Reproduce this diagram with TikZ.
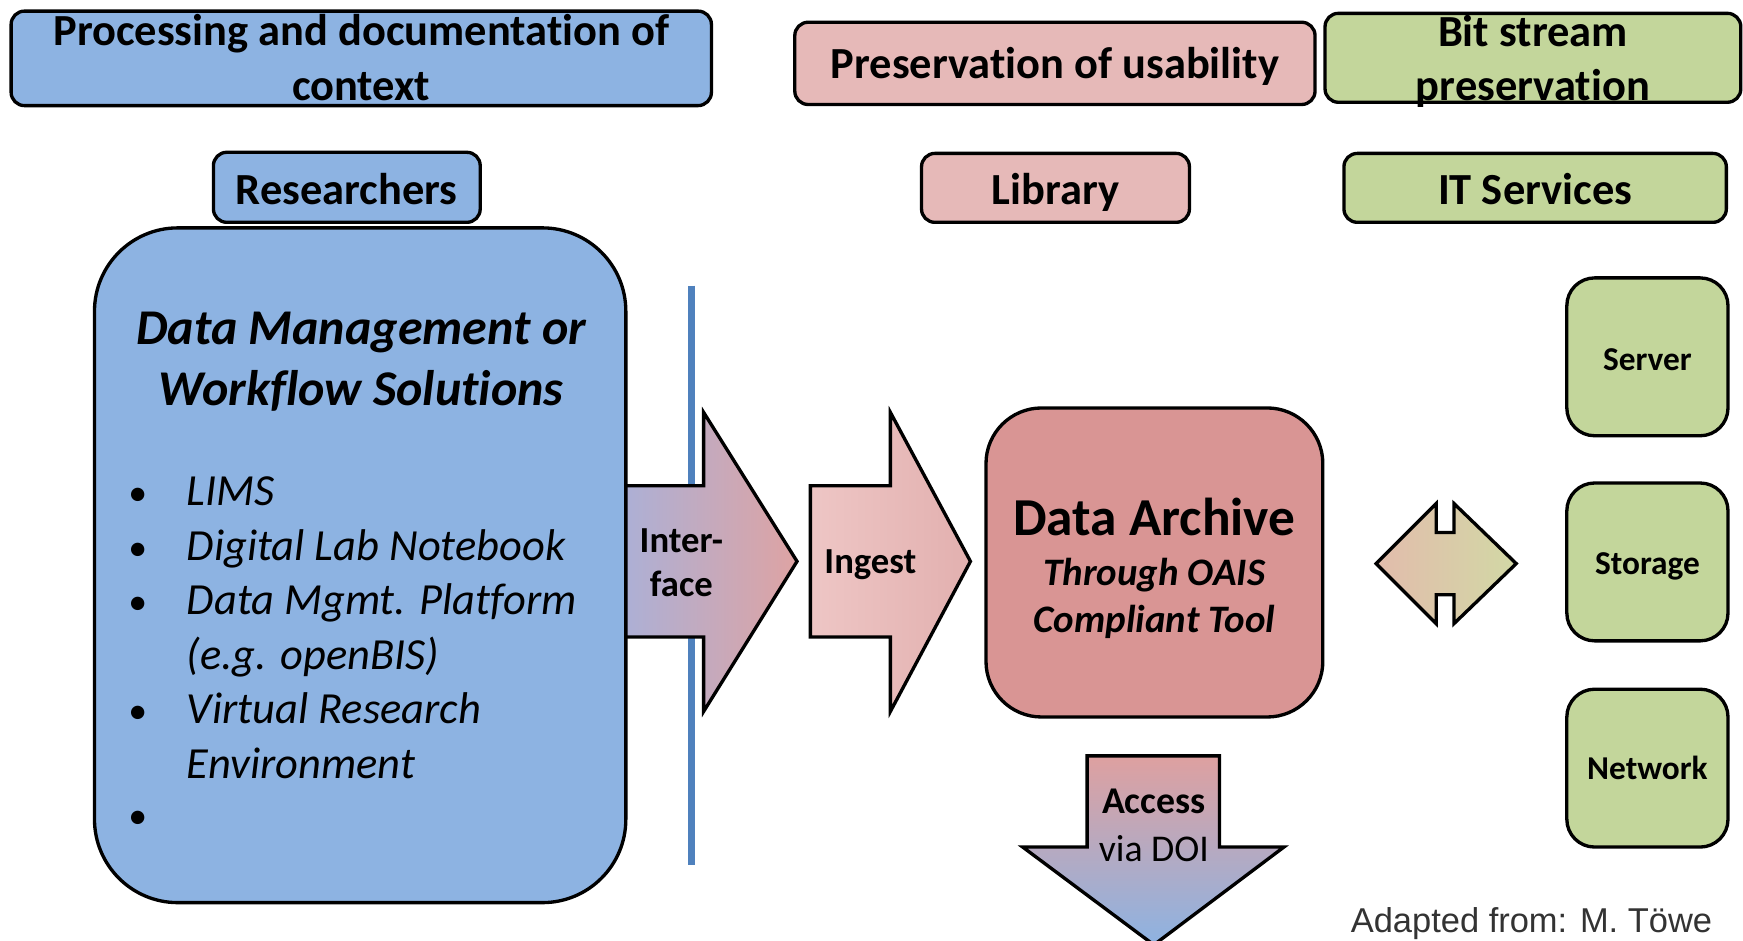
\documentclass[tikz,border=0pt]{standalone}
\usepackage{fontspec}
\setmainfont{Carlito}[Ligatures=NoCommon]
\newfontfamily\creditfont{Liberation Sans}
\definecolor{cblue}{RGB}{141,179,226}
\definecolor{cpink}{RGB}{230,185,184}
\definecolor{cgreen}{RGB}{195,214,155}
\definecolor{carch}{RGB}{217,149,148}
\definecolor{cline}{RGB}{79,129,189}
\definecolor{ifleft}{RGB}{172,176,214}
\definecolor{ifright}{RGB}{222,163,163}
\definecolor{ingleft}{RGB}{238,198,197}
\definecolor{ingright}{RGB}{226,176,175}
\definecolor{acctop}{RGB}{222,160,160}
\definecolor{daleft}{RGB}{226,188,172}
\definecolor{daright}{RGB}{210,216,165}
\begin{document}
\begin{tikzpicture}[x=1pt,y=-1pt,
  boxbase/.style={draw=black, line width=3pt, inner sep=0pt},
  hdr/.style={boxbase, rounded corners=12pt},
  sbox/.style={boxbase, rounded corners=25pt, fill=cgreen, minimum width=145pt, minimum height=142pt},
  barrow/.style={draw=black, line width=3pt, line join=miter},
  txt/.style={inner sep=0pt, anchor=base, text=black},
  hfont/.style={font=\bfseries\fontsize{40}{48}\selectfont},
  tfont/.style={font=\bfseries\itshape\fontsize{45}{55}\selectfont},
  lfont/.style={font=\itshape\fontsize{40}{49}\selectfont},
  bfont/.style={font=\fontsize{34}{49}\selectfont},
  afont/.style={font=\bfseries\fontsize{33}{40}\selectfont},
  gfont/.style={font=\bfseries\fontsize{30}{36}\selectfont},
]
\useasboundingbox (0,0) rectangle (1568,846);

% top headers
\node[hdr, fill=cblue, minimum width=630pt, minimum height=85pt] (procbox) at (325,52.5) {};
\node[txt, hfont] (proc1) at (325,41) {Processing and documentation of};
\node[txt, hfont] (proc2) at (325,90) {context};

\node[hdr, fill=cpink, minimum width=468pt, minimum height=74pt] (usebox) at (949,57) {};
\node[txt, hfont] (use1) at (949,71) {Preservation of usability};

\node[hdr, fill=cgreen, minimum width=374pt, minimum height=80pt] (bitbox) at (1379,52) {};
\node[txt, hfont] (bit1) at (1379,42) {Bit stream};
\node[txt, hfont] (bit2) at (1379,90) {preservation};

% second row
\node[hdr, fill=cblue, minimum width=240pt, minimum height=63pt] (resbox) at (312,168.5) {};
\node[txt, hfont] (res) at (312,184) {Researchers};
\node[hdr, fill=cpink, minimum width=241pt, minimum height=62pt] (libbox) at (949.5,169) {};
\node[txt, hfont] (lib) at (949.5,184) {Library};
\node[hdr, fill=cgreen, minimum width=344pt, minimum height=62pt] (itbox) at (1381,169) {};
\node[txt, hfont] (its) at (1381,184) {IT Services};

% interface line
\coordinate (ltop) at (622,257);
\coordinate (lbot) at (622,778);
\draw[line width=7pt, cline] (ltop) -- (lbot);

% interface arrow
\coordinate (i1) at (560,437);
\coordinate (i2) at (633,437);
\coordinate (i3) at (633,371);
\coordinate (i4) at (717,505);
\coordinate (i5) at (633,640);
\coordinate (i6) at (633,573);
\coordinate (i7) at (560,573);
\draw[barrow, left color=ifleft, right color=ifright] (i1) -- (i2) -- (i3) -- (i4) -- (i5) -- (i6) -- (i7) -- cycle;
\node[txt, afont] (if1) at (613,497) {Inter-};
\node[txt, afont] (if2) at (613,537) {face};

% big box
\node[boxbase, rounded corners=75pt, fill=cblue, minimum width=478pt, minimum height=607pt] (dmbox) at (324,508.5) {};
\node[txt, tfont] (dm1) at (325,310) {Data Management or};
\node[txt, tfont] (dm2) at (325,365) {Workflow Solutions};
\node[txt, bfont] (b1) at (124,455) {\textbullet};
\node[txt, bfont] (b2) at (124,504) {\textbullet};
\node[txt, bfont] (b3) at (124,553) {\textbullet};
\node[txt, bfont] (b4) at (124,651) {\textbullet};
\node[txt, bfont] (b5) at (124,745) {\textbullet};
\node[txt, lfont, anchor=base west] (l1) at (168,455) {LIMS};
\node[txt, lfont, anchor=base west] (l2) at (168,504) {Digital Lab Notebook};
\node[txt, lfont, anchor=base west] (l3) at (168,553) {Data Mgmt. Platform};
\node[txt, lfont, anchor=base west] (l4) at (168,602) {(e.g. openBIS)};
\node[txt, lfont, anchor=base west] (l5) at (168,651) {Virtual Research};
\node[txt, lfont, anchor=base west] (l6) at (168,700) {Environment};

% ingest arrow
\coordinate (g1) at (729,437);
\coordinate (g2) at (801,437);
\coordinate (g3) at (801,371);
\coordinate (g4) at (873,505);
\coordinate (g5) at (801,640);
\coordinate (g6) at (801,573);
\coordinate (g7) at (729,573);
\draw[barrow, left color=ingleft, right color=ingright] (g1) -- (g2) -- (g3) -- (g4) -- (g5) -- (g6) -- (g7) -- cycle;
\node[txt, afont] (ing) at (783,516) {Ingest};

% data archive
\node[boxbase, rounded corners=50pt, fill=carch, minimum width=303pt, minimum height=278pt] (arch) at (1038.5,506) {};
\node[txt, font=\bfseries\fontsize{48}{55}\selectfont] (arch1) at (1038.5,482) {Data Archive};
\node[txt, font=\bfseries\itshape\fontsize{35}{41}\selectfont] (arch2) at (1038.5,527) {Through OAIS};
\node[txt, font=\bfseries\itshape\fontsize{35}{41}\selectfont] (arch3) at (1038.5,569) {Compliant Tool};

% double arrow
\coordinate (d1) at (1238,507);
\coordinate (d2) at (1292,453);
\coordinate (d3) at (1292,479);
\coordinate (d4) at (1308,479);
\coordinate (d5) at (1308,453);
\coordinate (d6) at (1364,507);
\coordinate (d7) at (1308,561);
\coordinate (d8) at (1308,535);
\coordinate (d9) at (1292,535);
\coordinate (d10) at (1292,561);
\draw[barrow, left color=daleft, right color=daright] (d1) -- (d2) -- (d3) -- (d4) -- (d5) -- (d6) -- (d7) -- (d8) -- (d9) -- (d10) -- cycle;

% green boxes
\node[sbox] (server) at (1482,321) {};
\node[txt, gfont] (servert) at (1482,333) {Server};
\node[sbox] (storage) at (1482,505.5) {};
\node[txt, gfont] (storaget) at (1482,517) {Storage};
\node[sbox] (network) at (1482,691) {};
\node[txt, gfont] (networkt) at (1482,701) {Network};

% access arrow
\coordinate (a1) at (978,680);
\coordinate (a2) at (1097,680);
\coordinate (a3) at (1097,762);
\coordinate (a4) at (1155,762);
\coordinate (a5) at (1038,850);
\coordinate (a6) at (920,762);
\coordinate (a7) at (978,762);
\draw[barrow, top color=acctop, bottom color=cblue] (a1) -- (a2) -- (a3) -- (a4) -- (a5) -- (a6) -- (a7) -- cycle;
\node[txt, font=\bfseries\fontsize{34}{40}\selectfont] (acc1) at (1038,732) {Access};
\node[txt, font=\fontsize{34}{40}\selectfont] (acc2) at (1038,775) {via DOI};

% credit
\node[anchor=base west, inner sep=0pt, font=\creditfont\fontsize{31}{31}\selectfont, text=black!80] (credit) at (1215,839) {Adapted from: M. Töwe};
\end{tikzpicture}
\end{document}
